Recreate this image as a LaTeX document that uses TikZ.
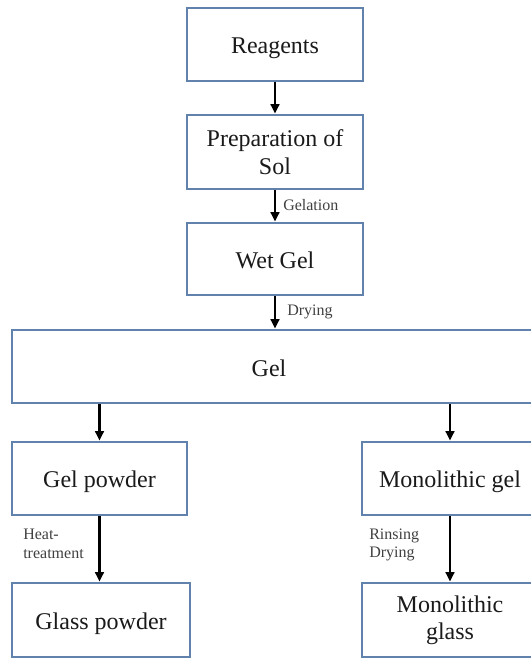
\documentclass[tikz,border=0pt]{standalone}
\usepackage{fontspec}
\setmainfont{Liberation Serif}
\usetikzlibrary{arrows.meta}
\definecolor{boxblue}{RGB}{96,130,172}
\definecolor{labgray}{RGB}{64,64,64}
\definecolor{boxtext}{RGB}{26,26,26}
\tikzset{
  stepbox/.style={rectangle, draw=boxblue, line width=2.2pt, fill=white,
    inner sep=0pt, align=center, text=boxtext,
    font=\fontsize{18}{20.5}\selectfont},
  oneline/.style={text height=14pt, text depth=0pt},
  flow/.style={draw=black, line width=1.6pt,
    -{Triangle[width=6.5pt,length=7pt]}},
  steplabel/.style={anchor=west, inner sep=0pt, align=left, text=labgray,
    font=\fontsize{12}{14}\selectfont}
}
\begin{document}
\begin{tikzpicture}[x=0.75pt,y=-0.75pt]
\useasboundingbox (0,0) rectangle (531,658);
\clip (0,0) rectangle (531,658);
\node[stepbox, oneline, minimum width=132pt, minimum height=54.75pt] (reag) at (275,44.5) {Reagents};
\node[stepbox, minimum width=132pt, minimum height=55.5pt] (prep) at (275,152) {Preparation of\\Sol};
\node[stepbox, oneline, minimum width=132pt, minimum height=54pt] (wet) at (275,259) {Wet Gel};
\node[stepbox, minimum width=396pt, minimum height=54.75pt,
  label={[font=\fontsize{18}{20.5}\selectfont, text=boxtext, xshift=-5.25pt, yshift=-1pt]center:Gel}] (gel) at (276,366.5) {};
\node[stepbox, oneline, minimum width=131.25pt, minimum height=54.75pt] (gpow) at (99.5,478.5) {Gel powder};
\node[stepbox, oneline, minimum width=132pt, minimum height=54.75pt] (mgel) at (450,478.5) {Monolithic gel};
\node[stepbox, oneline, minimum width=133.5pt, minimum height=55.5pt] (glpow) at (101,620) {Glass powder};
\node[stepbox, minimum width=132pt, minimum height=55.5pt] (mglass) at (450,620) {Monolithic\\glass};

\draw[flow] (reag.south) -- (prep.north);
\draw[flow] (prep.south) -- (wet.north);
\draw[flow] (wet.south) -- (wet.south |- gel.north);
\draw[flow] (gel.south -| gpow.north) -- (gpow.north);
\draw[flow] (gel.south -| mgel.north) -- (mgel.north);
\draw[flow] (gpow.south) -- (gpow.south |- glpow.north);
\draw[flow] (mgel.south) -- (mglass.north);

\node[steplabel] (lgel) at (283,205) {Gelation};
\node[steplabel] (ldry) at (287,312) {Drying};
\node[steplabel] (lheat) at (23,544) {Heat-\\treatment};
\node[steplabel] (lrinse) at (369,545) {Rinsing\\Drying};
\end{tikzpicture}
\end{document}
